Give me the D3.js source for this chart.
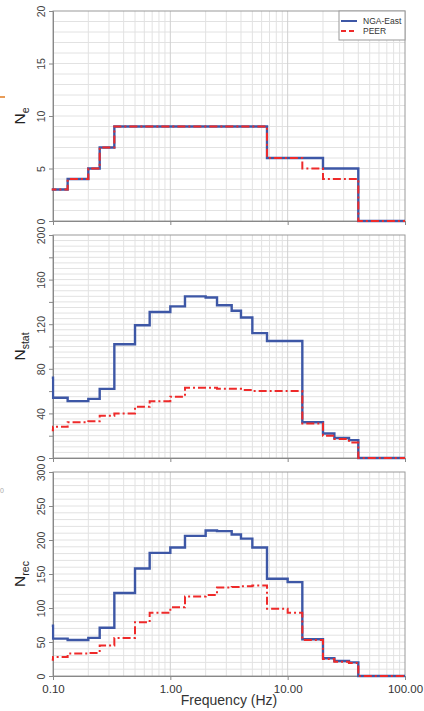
<!DOCTYPE html>
<html>
<head>
<meta charset="utf-8">
<script src="https://cdn.jsdelivr.net/npm/d3@7"></script>
<style>
  body { margin: 0; background: #fff; }
  svg { display: block; font-family: "Liberation Sans", Arial, sans-serif; }
</style>
</head>
<body>
<svg id="chart" width="424" height="711"></svg>
<script>
// bin edges (Hz); first bin sits left of the plot and gets clipped
var edges = [0.0667, 0.1, 0.1333, 0.2, 0.25, 0.3333, 0.5, 0.6667, 1, 1.333, 2, 2.5,
  3.333, 4, 5, 6.667, 10, 13.333, 20, 25, 33.333, 40, 100];

var neNga   = [3, 3, 4, 5, 7, 9, 9, 9, 9, 9, 9, 9, 9, 9, 9, 6, 6, 6, 5, 5, 5, 0];
var nePeer  = [3, 3, 4, 5, 7, 9, 9, 9, 9, 9, 9, 9, 9, 9, 9, 6, 6, 5, 4, 4, 4, 0];
var statNga  = [72, 54, 51, 53, 62, 102, 119, 131, 136, 145, 144, 137, 132, 126, 112, 105, 105, 32, 22, 18, 16, 0];
var statPeer = [25, 28, 32, 33, 38, 40, 46, 51, 55, 63, 63, 62, 62, 61, 60, 60, 60, 31, 20, 17, 14, 0];
var recNga  = [74, 55, 53, 56, 71, 122, 158, 181, 189, 206, 214, 213, 208, 202, 189, 143, 138, 54, 26, 22, 20, 0];
var recPeer = [24, 28, 33, 34, 45, 56, 79, 93, 101, 117, 119, 130, 131, 132, 133, 99, 93, 53, 25, 21, 19, 0];

var xTicks = [0.1, 1, 10, 100];
var xTickLabels = ["0.10", "1.00", "10.00", "100.00"];
var seriesNames = ["NGA-East", "PEER"];

var panels = [
  { top: 11,  bottom: 221, max: 20,  grid: 1,  tick: 5,  label: 5,  sub: "e",    nga: neNga,   peer: nePeer },
  { top: 235, bottom: 458, max: 200, grid: 5,  tick: 20, label: 40, sub: "stat", nga: statNga, peer: statPeer },
  { top: 472, bottom: 676, max: 300, grid: 10, tick: 50, label: 50, sub: "rec",  nga: recNga,  peer: recPeer }
];

var blue = "#3d57a6", red = "#ee2a2a";
var svg = d3.select("#chart");
var x = d3.scaleLog().domain([0.1, 100]).range([53, 405]);

var minorX = [];
[0.1, 1, 10].forEach(function (d) {
  for (var k = 2; k <= 9; k++) minorX.push(d * k);
});

function stepData(vals) {
  var pts = vals.map(function (v, i) { return [edges[i], v]; });
  pts.push([edges[edges.length - 1], vals[vals.length - 1]]);
  return pts;
}

panels.forEach(function (p, pi) {
  var y = d3.scaleLinear().domain([0, p.max]).range([p.bottom, p.top]);
  var g = svg.append("g");

  g.append("clipPath").attr("id", "clip" + pi)
    .append("rect").attr("x", 51.8).attr("y", p.top - 2)
    .attr("width", 354).attr("height", p.bottom - p.top + 4);

  // grid
  g.selectAll(".hg").data(d3.range(p.grid, p.max, p.grid)).enter()
    .append("line")
    .attr("x1", 53).attr("x2", 405)
    .attr("y1", function (d) { return y(d); }).attr("y2", function (d) { return y(d); })
    .attr("stroke", "#e2e2e2").attr("stroke-width", 1);
  g.selectAll(".vg").data(minorX).enter()
    .append("line")
    .attr("x1", function (d) { return x(d); }).attr("x2", function (d) { return x(d); })
    .attr("y1", p.top).attr("y2", p.bottom)
    .attr("stroke", "#e2e2e2").attr("stroke-width", 1);
  g.selectAll(".vm").data([1, 10]).enter()
    .append("line")
    .attr("x1", function (d) { return x(d); }).attr("x2", function (d) { return x(d); })
    .attr("y1", p.top).attr("y2", p.bottom)
    .attr("stroke", "#d0d0d0").attr("stroke-width", 1);

  // frame
  g.append("rect").attr("x", 53).attr("y", p.top)
    .attr("width", 352).attr("height", p.bottom - p.top)
    .attr("fill", "none").attr("stroke", "#9a9a9a").attr("stroke-width", 1);

  // y axis
  var yAxis = d3.axisLeft(y).tickValues(d3.range(0, p.max + 1, p.tick))
    .tickSize(4).tickPadding(3)
    .tickFormat(function (d) { return d % p.label === 0 ? d : ""; });
  var ya = g.append("g").attr("transform", "translate(53,0)").call(yAxis);
  ya.select(".domain").attr("stroke", "#888");
  ya.selectAll(".tick line").attr("stroke", "#888");
  ya.selectAll(".tick text")
    .attr("transform", "rotate(-90)")
    .attr("x", 0).attr("y", -8).attr("dy", 0)
    .attr("text-anchor", "middle")
    .attr("font-size", 10.5).attr("fill", "#444");

  // x axis ticks
  var xAxis = d3.axisBottom(x).tickValues(xTicks).tickSize(4)
    .tickFormat(function (d, i) { return pi === 2 ? xTickLabels[i] : ""; });
  var xa = g.append("g").attr("transform", "translate(0," + p.bottom + ")").call(xAxis);
  xa.select(".domain").attr("stroke", "#888");
  xa.selectAll(".tick line").attr("stroke", "#888");
  xa.selectAll(".tick text").attr("font-size", 11.5).attr("fill", "#333").attr("dy", "0.9em");

  // y title
  var yt = g.append("text")
    .attr("transform", "translate(25," + ((p.top + p.bottom) / 2) + ") rotate(-90)")
    .attr("text-anchor", "middle").attr("font-size", 15.5).attr("fill", "#222");
  yt.append("tspan").text("N");
  yt.append("tspan").attr("font-size", 10.5).attr("dy", 4).text(p.sub);

  // step lines
  var line = d3.line()
    .x(function (d) { return x(d[0]); })
    .y(function (d) { return y(d[1]); })
    .curve(d3.curveStepAfter);
  var lines = g.append("g").attr("clip-path", "url(#clip" + pi + ")");
  lines.append("path").datum(stepData(p.nga))
    .attr("d", line).attr("fill", "none")
    .attr("stroke", blue).attr("stroke-width", 2.4);
  lines.append("path").datum(stepData(p.peer))
    .attr("d", line).attr("fill", "none")
    .attr("stroke", red).attr("stroke-width", 2)
    .attr("stroke-dasharray", "8,3,2,3");
});

svg.append("text").attr("x", 229).attr("y", 705)
  .attr("text-anchor", "middle").attr("font-size", 14).attr("fill", "#333")
  .text("Frequency (Hz)");

// legend
var lg = svg.append("g").attr("transform", "translate(339,11)");
lg.append("rect").attr("width", 66).attr("height", 29)
  .attr("fill", "#fff").attr("stroke", "#999");
seriesNames.forEach(function (name, i) {
  lg.append("line").attr("x1", 2).attr("x2", 18)
    .attr("y1", 10 + i * 10).attr("y2", 10 + i * 10)
    .attr("stroke", i === 0 ? blue : red).attr("stroke-width", 2)
    .attr("stroke-dasharray", i === 0 ? null : "5,3");
  lg.append("text").attr("x", 24).attr("y", 13 + i * 10)
    .attr("font-size", 8.5).attr("fill", "#333").text(name);
});

// crop remnants at the left edge
svg.append("line").attr("x1", 0).attr("x2", 5).attr("y1", 97).attr("y2", 97)
  .attr("stroke", "#e07b20").attr("stroke-width", 1.5);
svg.append("text").attr("x", 0).attr("y", 493).attr("font-size", 7).attr("fill", "#aaa").text("0");
</script>
</body>
</html>
